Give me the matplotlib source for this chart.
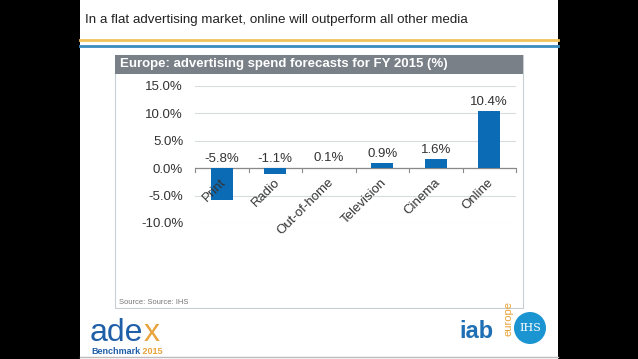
import matplotlib.pyplot as plt
from matplotlib.patches import Rectangle, Ellipse
import numpy as np

plt.rcParams['font.family'] = ['Liberation Sans', 'DejaVu Sans']

# data
categories = ['Print', 'Radio', 'Out-of-home', 'Television', 'Cinema', 'Online']
values = [-5.8, -1.1, 0.1, 0.9, 1.6, 10.4]
yticks = [-10, -5, 0, 5, 10, 15]

W, H = 638, 359
fig = plt.figure(figsize=(W / 100, H / 100), dpi=100)
fig.patch.set_facecolor('black')


def fx(x):
    return x / W


def fy(y):
    return 1 - y / H


def text_after(t, s, **kw):
    # put a second text right after an existing one
    r = fig.canvas.get_renderer()
    bb = t.get_window_extent(renderer=r)
    x0 = bb.x1 / fig.bbox.width
    _, y0 = t.get_position()
    return fig.text(x0, y0, s, va=t.get_va(), ha='left', **kw)


# white slide
fig.patches.append(Rectangle((fx(80), 0), fx(558 - 80), 1, transform=fig.transFigure,
                             facecolor='white', edgecolor='none', zorder=0))

# slide title and lines
fig.text(fx(85), fy(20), 'In a flat advertising market, online will outperform all other media',
         fontsize=9.6, color='#222222', va='center', ha='left')
fig.add_artist(plt.Line2D([fx(80), fx(558)], [fy(40), fy(40)], transform=fig.transFigure,
                          color='#f0c35a', lw=2))
fig.add_artist(plt.Line2D([fx(80), fx(558)], [fy(45.5), fy(45.5)], transform=fig.transFigure,
                          color='#3a8cc0', lw=2))

# chart box + header
fig.patches.append(Rectangle((fx(115), fy(308)), fx(523 - 115), (308 - 55) / H,
                             transform=fig.transFigure, facecolor='white',
                             edgecolor='#c8cdd2', lw=0.8, zorder=1))
fig.patches.append(Rectangle((fx(115), fy(74)), fx(523 - 115), (74 - 55) / H,
                             transform=fig.transFigure, facecolor='#7a8088',
                             edgecolor='none', zorder=2))
fig.text(fx(120), fy(64.5), 'Europe: advertising spend forecasts for FY 2015 (%)',
         fontsize=9.5, fontweight='bold', color='white', va='center', ha='left', zorder=3)
fig.text(fx(119), fy(302), 'Source: Source: IHS', fontsize=5.5, color='#777777',
         va='center', ha='left')

# axes
ax = fig.add_axes([fx(195), fy(223), fx(516 - 195), (223 - 86) / H])
ax.set_facecolor('none')
ax.set_zorder(5)
x = np.arange(len(categories))
ax.bar(x, values, width=0.42, color='#0b6cb5', zorder=3)
ax.set_xlim(-0.5, len(categories) - 0.5)
ax.set_ylim(-10, 15)
ax.set_yticks(yticks)
ax.set_yticklabels(['%.1f%%' % v for v in yticks], fontsize=9.5, color='#333333')
ax.tick_params(axis='y', length=0, pad=8.5)
ax.set_xticks([])
for s in ax.spines.values():
    s.set_visible(False)
ax.grid(axis='y', color='#d9dcdf', lw=0.8, zorder=0)
ax.axhline(0, color='#8a8a8a', lw=0.9, zorder=2)
for b in np.arange(-0.5, len(categories), 1.0):
    ax.plot([b, b], [0, -0.7], color='#8a8a8a', lw=0.8, zorder=2, clip_on=False)

for i, v in enumerate(values):
    ytxt = max(v, 0) + 0.6
    ax.text(i, ytxt, '%.1f%%' % v, ha='center', va='bottom', fontsize=9.5, color='#333333')
    ax.text(i - 0.03, -1.5, categories[i], rotation=45, ha='right', va='top',
            rotation_mode='anchor', fontsize=9.5, color='#333333')

# logos
t = fig.text(fx(90), fy(333), 'ade', fontsize=23, color='#1f5fa8', va='center', ha='left')
text_after(t, 'x', fontsize=23, color='#e8a33a')
t = fig.text(fx(91), fy(352), 'Benchmark', fontsize=6.5, fontweight='bold', color='#1f5fa8',
             va='center', ha='left')
text_after(t, ' 2015', fontsize=6.5, fontweight='bold', color='#e8a33a')

fig.text(fx(459), fy(331), 'iab', fontsize=17, fontweight='bold', color='#1f6fb5',
         va='center', ha='left')
fig.text(fx(508), fy(318), 'europe', fontsize=8, color='#e8a33a', rotation=90,
         va='center', ha='center')
fig.patches.append(Ellipse((fx(530), fy(328)), 32 / W, 32 / H, transform=fig.transFigure,
                           facecolor='#1a95d2', edgecolor='none'))
fig.text(fx(530), fy(328), 'IHS', fontsize=8, family='DejaVu Serif', color='white',
         va='center', ha='center')

fig.add_artist(plt.Line2D([fx(80), fx(558)], [fy(357), fy(357)], transform=fig.transFigure,
                          color='#bbbbbb', lw=1))

fig.savefig('out.png', dpi=100, facecolor=fig.get_facecolor())
